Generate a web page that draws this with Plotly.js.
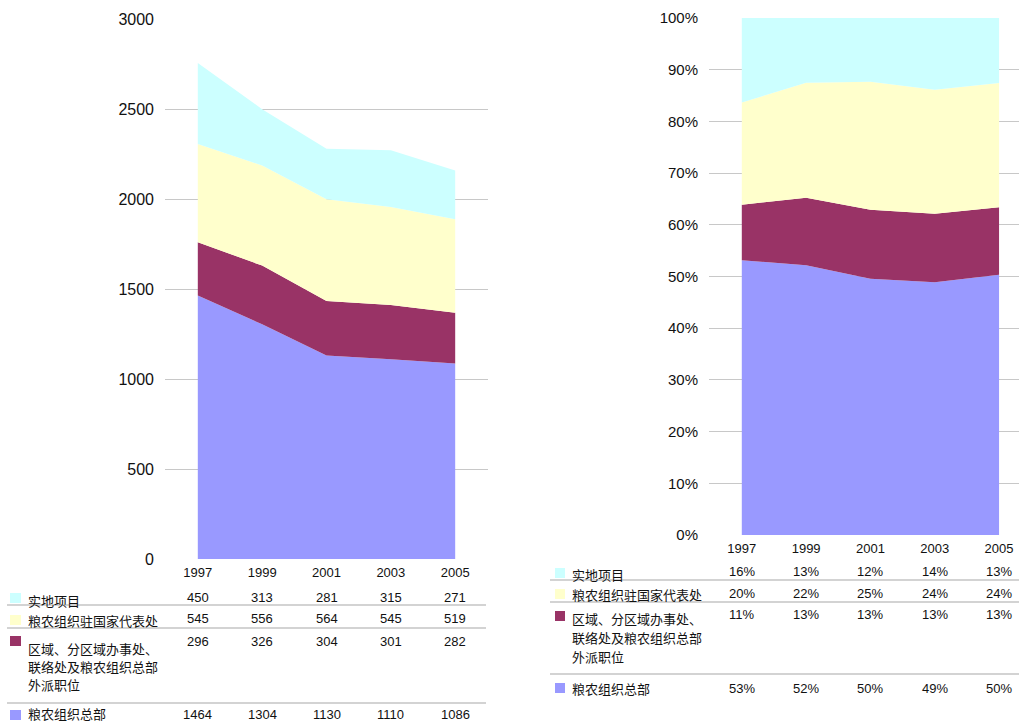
<!DOCTYPE html>
<html>
<head>
<meta charset="utf-8">
<script src="https://cdn.plot.ly/plotly-3.0.1.min.js"></script>
<style>
  html, body { margin: 0; padding: 0; background: #fff; }
  #chart { width: 1019px; height: 724px; }
</style>
</head>
<body>
<div id="chart"></div>
<script>
// ---- data ----
const years = ['1997', '1999', '2001', '2003', '2005'];
const fieldProjects   = [450, 313, 281, 315, 271];     // 实地项目
const countryOffices  = [545, 556, 564, 545, 519];     // 粮农组织驻国家代表处
const regionalOffices = [296, 326, 304, 301, 282];     // 区域、分区域办事处、联络处及粮农组织总部外派职位
const headquarters    = [1464, 1304, 1130, 1110, 1086]; // 粮农组织总部

const seriesNames = ['实地项目', '粮农组织驻国家代表处', '区域、分区域办事处、联络处及粮农组织总部外派职位', '粮农组织总部'];
const seriesLabelLines = [['实地项目'], ['粮农组织驻国家代表处'], ['区域、分区域办事处、', '联络处及粮农组织总部', '外派职位'], ['粮农组织总部']];
const seriesValues = [fieldProjects, countryOffices, regionalOffices, headquarters];
const seriesColors = ['#CCFFFF', '#FFFFCC', '#993366', '#9999FF'];

const leftTicks = [0, 500, 1000, 1500, 2000, 2500, 3000];
const rightTicks = [0, 10, 20, 30, 40, 50, 60, 70, 80, 90, 100];

// ---- layout helpers ----
const W = 1019, H = 724;
const px = x => x / W;
const py = y => (H - y) / H;

const NUM_FONT = '"Liberation Sans", Arial, sans-serif';
const CJK_FONT = '"Noto Sans CJK SC", sans-serif';

const traces = [];
// stack from bottom (headquarters) to top (field projects)
for (let i = seriesValues.length - 1; i >= 0; i--) {
  traces.push({
    type: 'scatter', x: years, y: seriesValues[i], name: seriesNames[i],
    stackgroup: 'abs', mode: 'none', fillcolor: seriesColors[i],
    line: {width: 0}, hoverinfo: 'skip', xaxis: 'x', yaxis: 'y'
  });
}
for (let i = seriesValues.length - 1; i >= 0; i--) {
  traces.push({
    type: 'scatter', x: years, y: seriesValues[i], name: seriesNames[i],
    stackgroup: 'pct', groupnorm: 'percent', mode: 'none', fillcolor: seriesColors[i],
    line: {width: 0}, hoverinfo: 'skip', xaxis: 'x2', yaxis: 'y2'
  });
}

const totals = years.map((_, j) => seriesValues.reduce((s, arr) => s + arr[j], 0));

const annotations = [];
const shapes = [];

// table geometry (pixel rows)
const leftTable = {
  valueY: [597, 618, 641, 714], labelY: [600, 620, 648, 713], lineStep: 18,
  sq: [[593, 603], [615, 625], [636, 646], [710, 720]], sqX: [10, 21], labelX: 26,
  lines: [605, 628, 703], lineX: [7, 486], xref: 'x'
};
const rightTable = {
  valueY: [571, 593, 614, 688], labelY: [574, 594, 618, 688], lineStep: 19,
  sq: [[568, 578], [589, 599], [611, 621], [683, 693]], sqX: [555, 565], labelX: 570,
  lines: [580, 602, 674], lineX: [550, 1019], xref: 'x2'
};

function buildTable(t, formatter) {
  seriesValues.forEach((vals, i) => {
    vals.forEach((v, j) => {
      // category axes take the category's serial number as position
      annotations.push({
        xref: t.xref, yref: 'paper', x: years.indexOf(years[j]), y: py(t.valueY[i]),
        text: formatter(v, j), showarrow: false, xanchor: 'center', yanchor: 'middle',
        font: {family: NUM_FONT, size: 13, color: '#111'}
      });
    });
    seriesLabelLines[i].forEach((ln, k) => {
      annotations.push({
        xref: 'paper', yref: 'paper', x: px(t.labelX), y: py(t.labelY[i] + k * t.lineStep),
        text: ln, showarrow: false, xanchor: 'left', yanchor: 'middle', align: 'left',
        font: {family: CJK_FONT, size: 13, color: '#111'}
      });
    });
    shapes.push({
      type: 'rect', xref: 'paper', yref: 'paper',
      x0: px(t.sqX[0]), x1: px(t.sqX[1]), y0: py(t.sq[i][0]), y1: py(t.sq[i][1]),
      fillcolor: seriesColors[i], line: {width: 0}
    });
  });
  t.lines.forEach(yy => {
    shapes.push({
      type: 'line', xref: 'paper', yref: 'paper',
      x0: px(t.lineX[0]), x1: px(t.lineX[1]), y0: py(yy), y1: py(yy),
      line: {color: '#c4c4c4', width: 1.5}
    });
  });
}
buildTable(leftTable, v => String(v));
buildTable(rightTable, (v, j) => Math.round(v / totals[j] * 100) + '%');

const layout = {
  width: W, height: H,
  margin: {l: 0, r: 0, t: 0, b: 0},
  paper_bgcolor: '#fff', plot_bgcolor: '#fff',
  showlegend: false,
  xaxis: {
    domain: [px(165), px(488)], type: 'category', range: [-0.51, 4.51],
    showgrid: false, zeroline: false, showline: false, ticks: '', ticklabelstandoff: 4,
    tickfont: {family: NUM_FONT, size: 13, color: '#111'}, anchor: 'y', fixedrange: true
  },
  yaxis: {
    domain: [py(559), py(19)], range: [0, 3000], tickmode: 'array', tickvals: leftTicks,
    ticktext: leftTicks.map(String),
    showgrid: true, gridcolor: '#c8c8c8', gridwidth: 1, zeroline: false, showline: false,
    ticks: '', ticklabelstandoff: 10,
    tickfont: {family: NUM_FONT, size: 16, color: '#111'}, anchor: 'x', fixedrange: true
  },
  xaxis2: {
    domain: [px(709), 1], type: 'category', range: [-0.51, 4.31],
    showgrid: false, zeroline: false, showline: false, ticks: '', ticklabelstandoff: 4,
    tickfont: {family: NUM_FONT, size: 13, color: '#111'}, anchor: 'y2', fixedrange: true
  },
  yaxis2: {
    domain: [py(535), py(18)], range: [0, 100], tickmode: 'array', tickvals: rightTicks,
    ticktext: rightTicks.map(v => v + '%'),
    showgrid: true, gridcolor: '#c8c8c8', gridwidth: 1, zeroline: false, showline: false,
    ticks: '', ticklabelstandoff: 10,
    tickfont: {family: NUM_FONT, size: 15, color: '#111'}, anchor: 'x2', fixedrange: true
  },
  annotations: annotations,
  shapes: shapes
};

Plotly.newPlot('chart', traces, layout, {displayModeBar: false, staticPlot: true});
</script>
</body>
</html>
